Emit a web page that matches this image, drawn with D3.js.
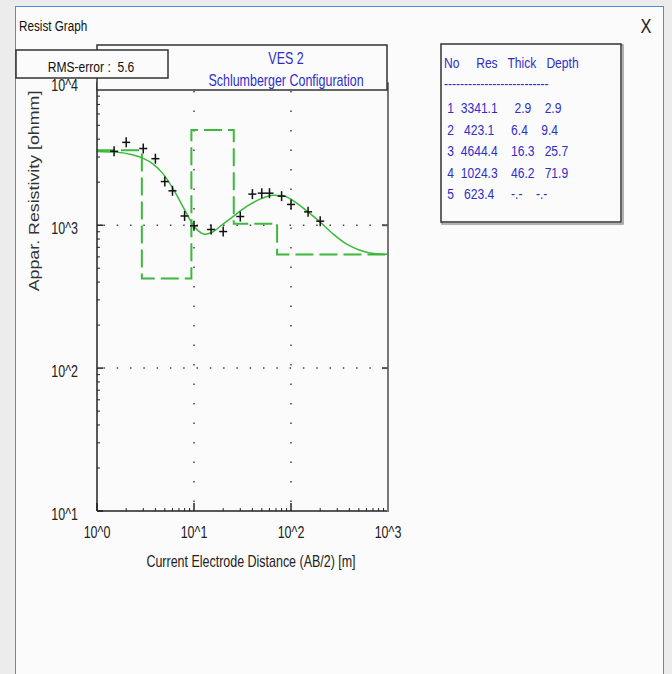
<!DOCTYPE html>
<html>
<head>
<meta charset="utf-8">
<script src="https://cdn.jsdelivr.net/npm/d3@7"></script>
<style>
  html, body { margin: 0; padding: 0; background: #ececec; }
  svg { display: block; font-family: "Liberation Sans", Arial, sans-serif; }
</style>
</head>
<body>
<div id="chart"></div>
<script>
// ---- field data (AB/2 in m, apparent resistivity in ohmm) ----
const abDist = [1.5, 2, 3, 4, 5, 6, 8, 10, 15, 20, 30, 40, 50, 60, 80, 100, 150, 200];
const appRes = [3290, 3800, 3440, 2920, 2020, 1740, 1160, 990, 933, 903, 1150, 1650, 1675, 1675, 1597, 1397, 1240, 1067];

// ---- computed model curve ----
const curveAB = [1, 1.53, 2.37, 3.0, 3.8, 4.83, 6.12, 7.76, 9.47, 11.1, 13.0, 15.2, 19.3, 25.4, 34.9, 47.9, 65.7, 83.3, 106, 145, 199, 273, 375, 514, 706, 1000];
const curveRes = [3283, 3248, 3096, 2934, 2675, 2277, 1786, 1331, 1044, 912, 865, 889, 1000, 1151, 1352, 1521, 1623, 1605, 1480, 1260, 1055, 865, 736, 668, 634, 626];

// ---- layer model ----
const layerNo = [1, 2, 3, 4, 5];
const layerRes = [3341.1, 423.1, 4644.4, 1024.3, 623.4];
const layerThick = [2.9, 6.4, 16.3, 46.2, null];
const layerDepth = [2.9, 9.4, 25.7, 71.9, null];

const xTicks = [1, 10, 100, 1000];
const xTickLabels = ['10^0', '10^1', '10^2', '10^3'];
const yTicks = [10, 100, 1000, 10000];
const yTickLabels = ['10^1', '10^2', '10^3', '10^4'];

const rmsError = 5.6;
const vesName = 'VES 2';
const configName = 'Schlumberger Configuration';

const W = 672, H = 674;
const SX = 0.78; // the screenshot is squeezed horizontally
const BLUE = '#2f2fc8', GREEN = '#3cb83c', INK = '#222';

const svg = d3.select('#chart').append('svg').attr('width', W).attr('height', H);

function txt(parent, x, y, s, size, color, anchor) {
  return parent.append('text')
    .attr('transform', `translate(${x},${y}) scale(${SX},1)`)
    .attr('text-anchor', anchor || 'start')
    .style('font-size', size + 'px')
    .style('fill', color)
    .style('white-space', 'pre')
    .text(s);
}

// ---------- WINDOW ----------
svg.append('rect').attr('width', W).attr('height', H).attr('fill', '#ececec');
svg.append('rect')
  .attr('x', 15.5).attr('y', 6.5).attr('width', 648).attr('height', H + 10)
  .attr('fill', '#fbfbfb').attr('stroke', '#4a90d9').attr('stroke-width', 1);
txt(svg, 19, 31, 'Resist Graph', 15, '#111');
txt(svg, 646, 33, 'X', 21, '#222', 'middle');

// ---------- SCALES ----------
const x = d3.scaleLog().domain([1, 1000]).range([97, 388]);
const y = d3.scaleLog().domain([10, 10000]).range([511, 82.3]);

const g = svg.append('g');

// ---------- GRID (dotted) ----------
[100, 1000].forEach((v) => {
  g.append('line')
    .attr('x1', x(1) + 6.4).attr('x2', x(1000)).attr('y1', y(v)).attr('y2', y(v))
    .attr('stroke', '#444').attr('stroke-width', 1.5).attr('stroke-dasharray', '1.5,11.8');
});
[10, 100].forEach((v) => {
  g.append('line')
    .attr('x1', x(v)).attr('x2', x(v)).attr('y1', 91).attr('y2', y(10))
    .attr('stroke', '#444').attr('stroke-width', 1.5).attr('stroke-dasharray', '1.5,18');
});

// ---------- LAYER MODEL (dashed steps) ----------
const stepPts = layerRes.map((r, i) => [i === 0 ? 1 : layerDepth[i - 1], r]);
stepPts.push([1000, layerRes[layerRes.length - 1]]);
const step = d3.line().x((d) => x(d[0])).y((d) => y(d[1])).curve(d3.curveStepAfter);
g.append('path')
  .attr('d', step(stepPts))
  .attr('fill', 'none')
  .attr('stroke', GREEN).attr('stroke-width', 2).attr('stroke-dasharray', '18,6');

// ---------- MODEL CURVE ----------
const curve = d3.line()
  .x((d, i) => x(curveAB[i]))
  .y((d) => y(d))
  .curve(d3.curveMonotoneX);
g.append('path')
  .attr('d', curve(curveRes))
  .attr('fill', 'none')
  .attr('stroke', GREEN).attr('stroke-width', 1.5);

// ---------- FIELD DATA (+) ----------
const pts = g.selectAll('.pt').data(abDist).enter().append('g')
  .attr('class', 'pt')
  .attr('transform', (d, i) => `translate(${x(d)},${y(appRes[i])})`);
pts.append('line').attr('x1', -4).attr('x2', 4).attr('y1', 0).attr('y2', 0);
pts.append('line').attr('x1', 0).attr('x2', 0).attr('y1', -5).attr('y2', 5);
pts.selectAll('line').attr('stroke', '#111').attr('stroke-width', 1.5);

// ---------- AXES ----------
const minors = (lo, hi) => {
  const out = [];
  for (let p = lo; p < hi; p *= 10) for (let k = 2; k <= 9; k++) out.push(p * k);
  return out;
};
// left
g.append('line').attr('x1', 97).attr('x2', 97).attr('y1', y(10000)).attr('y2', 511)
  .attr('stroke', INK).attr('stroke-width', 1.5);
minors(10, 10000).forEach((v) => {
  g.append('line').attr('x1', 97).attr('x2', 100).attr('y1', y(v)).attr('y2', y(v))
    .attr('stroke', INK).attr('stroke-width', 1);
});
yTicks.forEach((v) => {
  g.append('line').attr('x1', 97).attr('x2', 103).attr('y1', y(v)).attr('y2', y(v))
    .attr('stroke', INK).attr('stroke-width', 1.5);
});
// bottom
g.append('line').attr('x1', 97).attr('x2', 388).attr('y1', 511).attr('y2', 511)
  .attr('stroke', INK).attr('stroke-width', 1.5);
minors(1, 1000).forEach((v) => {
  g.append('line').attr('x1', x(v)).attr('x2', x(v)).attr('y1', 511).attr('y2', 508)
    .attr('stroke', INK).attr('stroke-width', 1);
});
xTicks.forEach((v) => {
  g.append('line').attr('x1', x(v)).attr('x2', x(v)).attr('y1', 511).attr('y2', 503)
    .attr('stroke', INK).attr('stroke-width', 1.5);
});
// right
g.append('line').attr('x1', 388).attr('x2', 388).attr('y1', y(10000)).attr('y2', 512)
  .attr('stroke', '#777').attr('stroke-width', 2);
[100, 1000].forEach((v) => {
  g.append('line').attr('x1', 382).attr('x2', 388).attr('y1', y(v)).attr('y2', y(v))
    .attr('stroke', '#555').attr('stroke-width', 2);
});

// tick labels
yTicks.forEach((v, i) => txt(svg, 78, y(v) + 8.5, yTickLabels[i], 16, INK, 'end'));
xTicks.forEach((v, i) => txt(svg, x(v), 538, xTickLabels[i], 16, INK, 'middle'));

// axis titles
txt(svg, 251, 567, 'Current Electrode Distance (AB/2) [m]', 16, INK, 'middle');
svg.append('text')
  .attr('transform', `translate(38.5,191) scale(${SX},1) rotate(-90)`)
  .attr('text-anchor', 'middle')
  .style('font-size', '17.8px')
  .style('fill', '#333')
  .text('Appar. Resistivity [ohmm]');

// ---------- HEADER BOX ----------
svg.append('rect').attr('x', 97).attr('y', 45).attr('width', 290).attr('height', 45)
  .attr('fill', '#fbfbfb').attr('stroke', '#333').attr('stroke-width', 1.5);
txt(svg, 286, 64, vesName, 16, BLUE, 'middle');
txt(svg, 286, 86, configName, 16, BLUE, 'middle');

// RMS box
svg.append('rect').attr('x', 16).attr('y', 50).attr('width', 152).attr('height', 28)
  .attr('fill', '#fbfbfb').attr('stroke', '#333').attr('stroke-width', 1.5);
txt(svg, 91, 72, `RMS-error :  ${rmsError}`, 15.5, '#111', 'middle');

// ---------- LAYER TABLE ----------
svg.append('rect').attr('x', 442).attr('y', 45).attr('width', 181).attr('height', 179)
  .attr('fill', 'none').attr('stroke', '#999').attr('stroke-width', 1.5);
svg.append('rect').attr('x', 441).attr('y', 44).attr('width', 180).attr('height', 178)
  .attr('fill', '#fbfbfb').attr('stroke', '#333').attr('stroke-width', 1.5);
txt(svg, 444, 68, 'No     Res   Thick   Depth', 15.5, BLUE);
txt(svg, 444, 89, '-'.repeat(26), 15.5, BLUE);
const fmt = (v) => (v == null ? '-.-' : v.toFixed(1));
layerNo.forEach((n, i) => {
  const row = ' ' + n + '  ' + fmt(layerRes[i]).padStart(6) +
    fmt(layerThick[i]).padStart(8) + fmt(layerDepth[i]).padStart(7);
  txt(svg, 444, 113 + i * 21.6, row, 15.5, BLUE);
});
</script>
</body>
</html>
